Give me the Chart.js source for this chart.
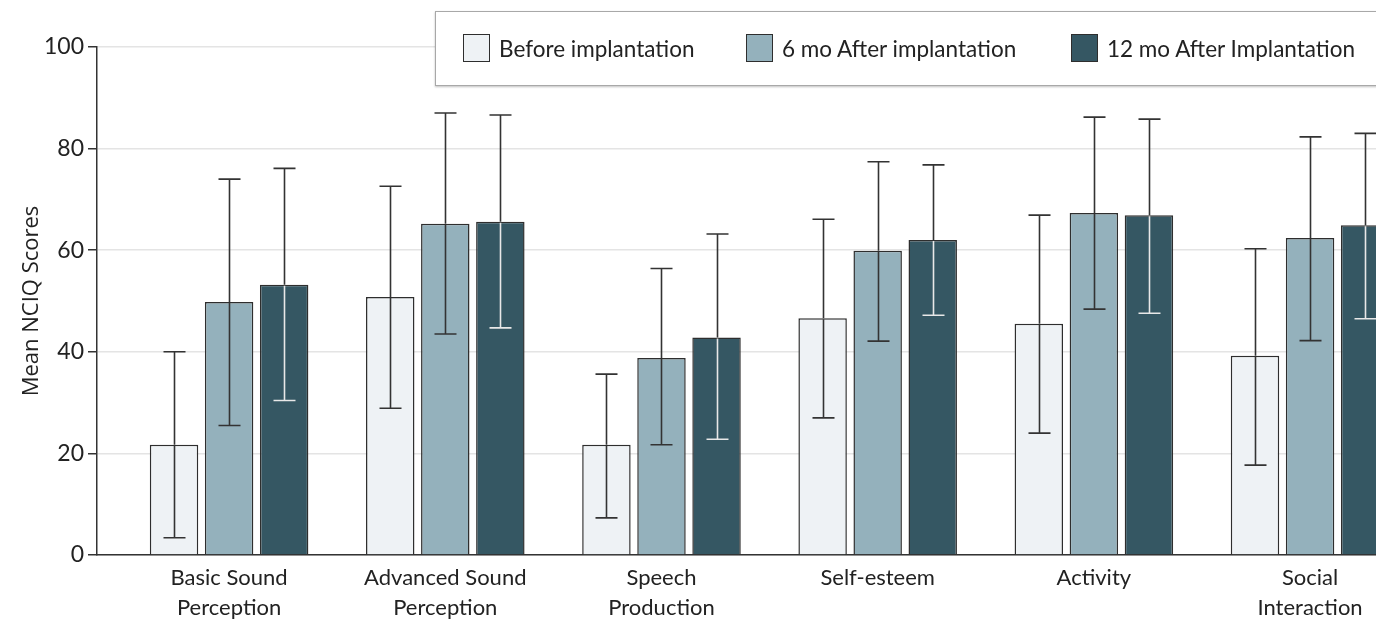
<!DOCTYPE html>
<html>
<head>
<meta charset="utf-8">
<script src="https://cdn.jsdelivr.net/npm/chart.js@4.4.1/dist/chart.umd.min.js"></script>
<style>
  html, body { margin: 0; padding: 0; background: #fff; overflow: hidden; }
  #wrap { position: relative; width: 1376px; height: 620px; }
  #legend {
    position: absolute; left: 435px; top: 11px; width: 1000px; height: 73px;
    background: #fff; border: 1.5px solid #a8a8a8; box-shadow: 0 1px 2px rgba(0,0,0,0.25);
    font-family: Lato, "Liberation Sans", sans-serif; font-size: 22.5px; color: #222;
  }
  .item { position: absolute; top: 22px; display: flex; align-items: center; white-space: nowrap; }
  .sw { width: 27px; height: 28px; border: 1.5px solid #2e2e2e; margin-right: 9px; box-sizing: border-box; }
</style>
</head>
<body>
<div id="wrap">
  <canvas id="bars" width="1376" height="620"></canvas>
  <div id="legend"></div>
</div>
<script>
const categories = [
  ["Basic Sound", "Perception"],
  ["Advanced Sound", "Perception"],
  ["Speech", "Production"],
  "Self-esteem",
  "Activity",
  ["Social", "Interaction"]
];
const seriesNames = ["Before implantation", "6 mo After implantation", "12 mo After Implantation"];
const seriesColors = ["#eef2f5", "#94b1bc", "#355763"];

// means
const before = [21.7, 50.8, 21.7, 46.6, 45.5, 39.2];
const sixMo = [49.8, 65.2, 38.8, 59.9, 67.3, 62.4];
const twelveMo = [53.2, 65.6, 42.8, 62.0, 66.9, 64.9];

// error bar ends (low / high)
const beforeLow = [3.4, 28.9, 7.3, 27.0, 24.0, 17.7];
const beforeHigh = [40.0, 72.6, 35.6, 66.1, 66.9, 60.3];
const sixLow = [25.5, 43.5, 21.7, 42.1, 48.4, 42.2];
const sixHigh = [74.0, 87.0, 56.4, 77.4, 86.2, 82.3];
const twelveLow = [30.4, 44.7, 22.8, 47.2, 47.6, 46.5];
const twelveHigh = [76.1, 86.6, 63.2, 76.8, 85.8, 83.0];

const yTicks = [0, 20, 40, 60, 80, 100];

const errLow = [beforeLow, sixLow, twelveLow];
const errHigh = [beforeHigh, sixHigh, twelveHigh];
const innerErrColor = ["#333", "#333", "#e8e8e8"];

const toPoints = arr => arr.map((v, i) => ({ x: i, y: v }));

// whiskers drawn on top of the bars
const errorBars = {
  id: "errorBars",
  afterDatasetsDraw(chart) {
    const ctx = chart.ctx;
    const y = chart.scales.y;
    const area = chart.chartArea;
    ctx.save();
    ctx.beginPath();
    ctx.rect(area.left, 0, area.right - area.left, chart.height);
    ctx.clip();
    ctx.lineWidth = 1.6;
    chart.data.datasets.forEach((ds, d) => {
      const meta = chart.getDatasetMeta(d);
      meta.data.forEach((bar, i) => {
        const x = Math.round(bar.x) + 0.5;
        const yHi = y.getPixelForValue(errHigh[d][i]);
        const yLo = y.getPixelForValue(errLow[d][i]);
        const yBar = bar.y;
        const cap = 11;
        // above bar
        ctx.strokeStyle = "#333";
        ctx.beginPath();
        ctx.moveTo(x, yBar);
        ctx.lineTo(x, yHi);
        ctx.moveTo(x - cap, yHi);
        ctx.lineTo(x + cap, yHi);
        ctx.stroke();
        // inside bar
        ctx.strokeStyle = innerErrColor[d];
        ctx.beginPath();
        ctx.moveTo(x, yBar + 1);
        ctx.lineTo(x, yLo);
        ctx.moveTo(x - cap, yLo);
        ctx.lineTo(x + cap, yLo);
        ctx.stroke();
      });
    });
    ctx.restore();
  }
};

const font = "Lato, 'Liberation Sans', sans-serif";
const datasets = [before, sixMo, twelveMo].map((vals, d) => ({
  label: seriesNames[d],
  data: toPoints(vals),
  backgroundColor: seriesColors[d],
  borderColor: "#2e2e2e",
  borderWidth: 1.5,
  borderSkipped: "bottom",
  categoryPercentage: 0.764,
  barPercentage: 0.88
}));

new Chart(document.getElementById("bars"), {
  type: "bar",
  data: { datasets },
  options: {
    responsive: false,
    animation: false,
    devicePixelRatio: 1,
    layout: { padding: { top: 47, right: 0, bottom: 0, left: 0 } },
    plugins: { legend: { display: false }, tooltip: { enabled: false } },
    scales: {
      x: {
        type: "linear",
        offset: false,
        min: -0.611,
        max: 5.305,
        afterBuildTicks: axis => { axis.ticks = categories.map((_, i) => ({ value: i })); },
        afterFit: axis => { axis.height = 65; },
        grid: { display: false, drawTicks: false, offset: false },
        border: { display: true, color: "#333", width: 1.5 },
        ticks: {
          autoSkip: false,
          maxRotation: 0,
          padding: 8,
          color: "#222",
          font: { family: font, size: 22, lineHeight: 1.36 },
          callback: v => categories[v]
        }
      },
      y: {
        min: 0,
        max: 100,
        afterBuildTicks: axis => { axis.ticks = yTicks.map(v => ({ value: v })); },
        afterFit: axis => { axis.width = 97; },
        grid: { color: "#e4e4e4", lineWidth: 1.5, tickColor: "#333", tickLength: 9 },
        border: { display: true, color: "#333", width: 1.5 },
        ticks: { padding: 4, color: "#222", font: { family: font, size: 23 } },
        title: {
          display: true,
          text: "Mean NCIQ Scores",
          color: "#222",
          padding: { top: 19, bottom: 0 },
          font: { family: "'Open Sans', sans-serif", size: 22 }
        }
      }
    }
  },
  plugins: [errorBars]
});

// legend box
const legendEl = document.getElementById("legend");
const legendLeft = [27, 310, 635];
seriesNames.forEach((name, d) => {
  const item = document.createElement("div");
  item.className = "item";
  item.style.left = legendLeft[d] + "px";
  item.innerHTML = `<div class="sw" style="background:${seriesColors[d]}"></div><span>${name}</span>`;
  legendEl.appendChild(item);
});
</script>
</body>
</html>
